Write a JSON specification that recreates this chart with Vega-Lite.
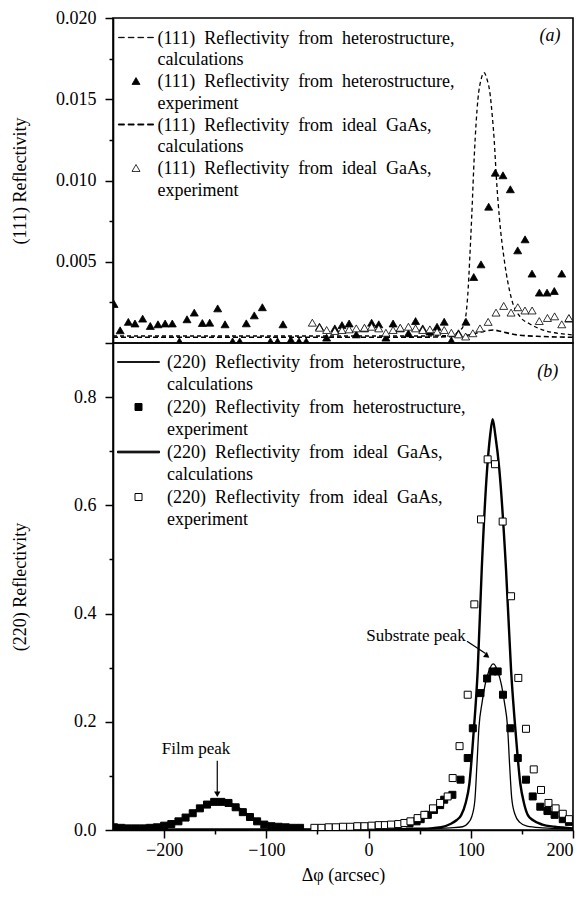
{
  "$schema": "https://vega.github.io/schema/vega-lite/v6.json",
  "padding": {"left": 10, "top": 8, "right": 10, "bottom": 5},
  "spacing": 0,
  "bounds": "flush",
  "resolve": {"scale": {"shape": "independent", "fill": "independent"}, "legend": {"shape": "independent", "fill": "independent"}},
  "config": {
    "font": "Liberation Serif",
    "view": {"stroke": "black", "strokeWidth": 1.6},
    "axis": {"domainColor": "black", "domainWidth": 1.6, "tickColor": "black", "tickWidth": 1.5, "labelColor": "black", "labelFontSize": 18, "titleFontSize": 18, "titleFontWeight": "normal", "titleColor": "black", "grid": false, "labelFont": "Liberation Serif", "titleFont": "Liberation Serif"},
    "legend": {"labelFont": "Liberation Serif", "labelColor": "black"}
  },
  "datasets": {
    "a_hc": [
      {"x": -250, "y": 0.00043}, {"x": -150, "y": 0.00043}, {"x": -50, "y": 0.00043}, {"x": 50, "y": 0.00043}, {"x": 80, "y": 0.00046},
      {"x": 86, "y": 0.0006}, {"x": 90, "y": 0.0008}, {"x": 93, "y": 0.0011}, {"x": 95, "y": 0.0016}, {"x": 97, "y": 0.0029},
      {"x": 99, "y": 0.0052}, {"x": 101, "y": 0.0079}, {"x": 103.5, "y": 0.0116}, {"x": 107, "y": 0.015}, {"x": 110, "y": 0.0162},
      {"x": 113, "y": 0.01664}, {"x": 116, "y": 0.0162}, {"x": 118.5, "y": 0.0155}, {"x": 121, "y": 0.014}, {"x": 123, "y": 0.0124},
      {"x": 125, "y": 0.0102}, {"x": 128, "y": 0.0077}, {"x": 133, "y": 0.005}, {"x": 139.5, "y": 0.0028}, {"x": 149, "y": 0.00156},
      {"x": 157, "y": 0.0012}, {"x": 165, "y": 0.00094}, {"x": 173, "y": 0.00075}, {"x": 182, "y": 0.00063}, {"x": 190, "y": 0.00056}, {"x": 200, "y": 0.0005}
    ],
    "a_ic": [
      {"x": -250, "y": 0.00035}, {"x": -100, "y": 0.00035}, {"x": 50, "y": 0.00036}, {"x": 90, "y": 0.00042}, {"x": 105, "y": 0.0006},
      {"x": 115, "y": 0.00075}, {"x": 122, "y": 0.0008}, {"x": 130, "y": 0.0007}, {"x": 145, "y": 0.0005}, {"x": 170, "y": 0.0004}, {"x": 200, "y": 0.00035}
    ],
    "a_exp": [
      {"x": -249, "y": 0.0024, "series": "he"}, {"x": -243, "y": 0.00078, "series": "he"}, {"x": -235, "y": 0.0013, "series": "he"},
      {"x": -228.5, "y": 0.0012, "series": "he"}, {"x": -221, "y": 0.0015, "series": "he"}, {"x": -213.5, "y": 0.00105, "series": "he"},
      {"x": -206, "y": 0.00115, "series": "he"}, {"x": -199, "y": 0.0012, "series": "he"}, {"x": -192, "y": 0.0012, "series": "he"},
      {"x": -185, "y": 0.0001, "series": "he"}, {"x": -177.6, "y": 0.00146, "series": "he"}, {"x": -170.5, "y": 0.00187, "series": "he"},
      {"x": -162.6, "y": 0.00123, "series": "he"}, {"x": -155.4, "y": 0.00125, "series": "he"}, {"x": -147.6, "y": 0.00213, "series": "he"},
      {"x": -140.4, "y": 0.00115, "series": "he"}, {"x": -133, "y": 0.0001, "series": "he"}, {"x": -126, "y": 0.0001, "series": "he"},
      {"x": -119.6, "y": 0.00121, "series": "he"}, {"x": -111.8, "y": 0.0017, "series": "he"}, {"x": -103.9, "y": 0.0022, "series": "he"},
      {"x": -96, "y": 0.0001, "series": "he"}, {"x": -89, "y": 0.0001, "series": "he"}, {"x": -83.7, "y": 0.00115, "series": "he"},
      {"x": -76, "y": 0.0002, "series": "he"}, {"x": -68, "y": 0.0001, "series": "he"}, {"x": -61, "y": 0.0001, "series": "he"},
      {"x": -48, "y": 0.001, "series": "he"}, {"x": -41, "y": 0.00033, "series": "he"}, {"x": -33, "y": 0.0009, "series": "he"},
      {"x": -26, "y": 0.0011, "series": "he"}, {"x": -19, "y": 0.0012, "series": "he"}, {"x": -12, "y": 0.00053, "series": "he"},
      {"x": -4, "y": 0.0009, "series": "he"}, {"x": 3, "y": 0.00125, "series": "he"}, {"x": 10, "y": 0.00115, "series": "he"},
      {"x": 17, "y": 0.00033, "series": "he"}, {"x": 24, "y": 0.0012, "series": "he"}, {"x": 31, "y": 0.0009, "series": "he"},
      {"x": 39, "y": 0.0006, "series": "he"}, {"x": 46, "y": 0.00135, "series": "he"}, {"x": 53, "y": 0.0009, "series": "he"},
      {"x": 60, "y": 0.0007, "series": "he"}, {"x": 67, "y": 0.001, "series": "he"}, {"x": 74, "y": 0.00131, "series": "he"},
      {"x": 81, "y": 0.00015, "series": "he"}, {"x": 88, "y": 0.0006, "series": "he"}, {"x": 95.3, "y": 0.00131, "series": "he"},
      {"x": 102.9, "y": 0.00406, "series": "he"}, {"x": 110, "y": 0.00484, "series": "he"}, {"x": 117.5, "y": 0.00839, "series": "he"},
      {"x": 124, "y": 0.01048, "series": "he"}, {"x": 131.5, "y": 0.01032, "series": "he"}, {"x": 138.7, "y": 0.00946, "series": "he"},
      {"x": 145.9, "y": 0.0057, "series": "he"}, {"x": 153.1, "y": 0.00638, "series": "he"}, {"x": 159.9, "y": 0.00427, "series": "he"},
      {"x": 167.1, "y": 0.0031, "series": "he"}, {"x": 174.6, "y": 0.0031, "series": "he"}, {"x": 181.7, "y": 0.0032, "series": "he"},
      {"x": 189, "y": 0.00427, "series": "he"}, {"x": 196, "y": 0.0015, "series": "he"},
      {"x": -55, "y": 0.00125, "series": "ie"}, {"x": -48, "y": 0.00094, "series": "ie"}, {"x": -41, "y": 0.0008, "series": "ie"},
      {"x": -33, "y": 0.00074, "series": "ie"}, {"x": -26, "y": 0.0008, "series": "ie"}, {"x": -19, "y": 0.00084, "series": "ie"},
      {"x": -12, "y": 0.0009, "series": "ie"}, {"x": -4, "y": 0.00094, "series": "ie"}, {"x": 3, "y": 0.001, "series": "ie"},
      {"x": 10, "y": 0.0009, "series": "ie"}, {"x": 17, "y": 0.00063, "series": "ie"}, {"x": 24, "y": 0.0008, "series": "ie"},
      {"x": 31, "y": 0.00094, "series": "ie"}, {"x": 39, "y": 0.001, "series": "ie"}, {"x": 46, "y": 0.0009, "series": "ie"},
      {"x": 53, "y": 0.0008, "series": "ie"}, {"x": 60, "y": 0.00084, "series": "ie"}, {"x": 67, "y": 0.0007, "series": "ie"},
      {"x": 74, "y": 0.0008, "series": "ie"}, {"x": 81, "y": 0.00063, "series": "ie"}, {"x": 88, "y": 0.00053, "series": "ie"},
      {"x": 95, "y": 0.0004, "series": "ie"}, {"x": 102, "y": 0.0006, "series": "ie"}, {"x": 109, "y": 0.0009, "series": "ie"},
      {"x": 117, "y": 0.0013, "series": "ie"}, {"x": 124.7, "y": 0.00187, "series": "ie"}, {"x": 132.2, "y": 0.00228, "series": "ie"},
      {"x": 139.4, "y": 0.00187, "series": "ie"}, {"x": 146, "y": 0.0022, "series": "ie"}, {"x": 153, "y": 0.002, "series": "ie"},
      {"x": 160, "y": 0.002, "series": "ie"}, {"x": 167, "y": 0.00135, "series": "ie"}, {"x": 175, "y": 0.00154, "series": "ie"},
      {"x": 182, "y": 0.00164, "series": "ie"}, {"x": 189, "y": 0.00115, "series": "ie"}, {"x": 196, "y": 0.00154, "series": "ie"}
    ],
    "b_hc": [
      {"x": -250, "y": 0.004}, {"x": -235, "y": 0.003}, {"x": -220, "y": 0.003}, {"x": -210, "y": 0.004}, {"x": -200, "y": 0.007},
      {"x": -190, "y": 0.013}, {"x": -180, "y": 0.022}, {"x": -170, "y": 0.034}, {"x": -160, "y": 0.046}, {"x": -152, "y": 0.053},
      {"x": -147, "y": 0.055}, {"x": -140, "y": 0.053}, {"x": -130, "y": 0.045}, {"x": -120, "y": 0.032}, {"x": -110, "y": 0.019},
      {"x": -100, "y": 0.009}, {"x": -90, "y": 0.004}, {"x": -75, "y": 0.002}, {"x": -50, "y": 0.001}, {"x": 0, "y": 0.001},
      {"x": 50, "y": 0.002}, {"x": 80, "y": 0.004}, {"x": 92, "y": 0.006}, {"x": 97, "y": 0.012}, {"x": 101, "y": 0.025},
      {"x": 104, "y": 0.055}, {"x": 106, "y": 0.12}, {"x": 108, "y": 0.19}, {"x": 111, "y": 0.235}, {"x": 114, "y": 0.268},
      {"x": 117, "y": 0.29}, {"x": 122, "y": 0.307}, {"x": 127, "y": 0.29}, {"x": 130, "y": 0.268}, {"x": 133, "y": 0.235},
      {"x": 136, "y": 0.19}, {"x": 138, "y": 0.12}, {"x": 140, "y": 0.06}, {"x": 143, "y": 0.03}, {"x": 148, "y": 0.014},
      {"x": 155, "y": 0.007}, {"x": 170, "y": 0.004}, {"x": 200, "y": 0.002}
    ],
    "b_ic": [
      {"x": -250, "y": 0.001}, {"x": 0, "y": 0.001}, {"x": 40, "y": 0.002}, {"x": 60, "y": 0.003}, {"x": 71, "y": 0.005},
      {"x": 80, "y": 0.011}, {"x": 86, "y": 0.018}, {"x": 90.5, "y": 0.027}, {"x": 95, "y": 0.05}, {"x": 98.6, "y": 0.085},
      {"x": 102.5, "y": 0.173}, {"x": 106.8, "y": 0.296}, {"x": 110.7, "y": 0.481}, {"x": 116, "y": 0.667}, {"x": 119, "y": 0.73},
      {"x": 121.4, "y": 0.759}, {"x": 124, "y": 0.73}, {"x": 127.9, "y": 0.667}, {"x": 134.5, "y": 0.481}, {"x": 139.4, "y": 0.296},
      {"x": 144.2, "y": 0.173}, {"x": 148.5, "y": 0.085}, {"x": 152, "y": 0.05}, {"x": 156, "y": 0.027}, {"x": 161, "y": 0.018},
      {"x": 170, "y": 0.01}, {"x": 182, "y": 0.006}, {"x": 200, "y": 0.003}
    ],
    "b_exp": [
      {"x": -249, "y": 0.005, "series": "he"}, {"x": -242, "y": 0.004, "series": "he"}, {"x": -235, "y": 0.003, "series": "he"},
      {"x": -228, "y": 0.003, "series": "he"}, {"x": -221, "y": 0.003, "series": "he"}, {"x": -214, "y": 0.004, "series": "he"},
      {"x": -207, "y": 0.005, "series": "he"}, {"x": -200, "y": 0.008, "series": "he"}, {"x": -193, "y": 0.011, "series": "he"},
      {"x": -186, "y": 0.016, "series": "he"}, {"x": -179, "y": 0.023, "series": "he"}, {"x": -172, "y": 0.031, "series": "he"},
      {"x": -165, "y": 0.04, "series": "he"}, {"x": -158, "y": 0.047, "series": "he"}, {"x": -151, "y": 0.052, "series": "he"},
      {"x": -144, "y": 0.052, "series": "he"}, {"x": -137, "y": 0.05, "series": "he"}, {"x": -130, "y": 0.042, "series": "he"},
      {"x": -123, "y": 0.033, "series": "he"}, {"x": -116, "y": 0.024, "series": "he"}, {"x": -109, "y": 0.016, "series": "he"},
      {"x": -102, "y": 0.01, "series": "he"}, {"x": -95, "y": 0.007, "series": "he"}, {"x": -88, "y": 0.006, "series": "he"},
      {"x": -81, "y": 0.005, "series": "he"}, {"x": -74, "y": 0.004, "series": "he"}, {"x": -67, "y": 0.004, "series": "he"},
      {"x": 40, "y": 0.012, "series": "he"}, {"x": 47, "y": 0.016, "series": "he"}, {"x": 51, "y": 0.02, "series": "he"},
      {"x": 58, "y": 0.028, "series": "he"}, {"x": 64, "y": 0.037, "series": "he"}, {"x": 70, "y": 0.046, "series": "he"},
      {"x": 74, "y": 0.056, "series": "he"}, {"x": 82, "y": 0.065, "series": "he"}, {"x": 90, "y": 0.093, "series": "he"},
      {"x": 97, "y": 0.133, "series": "he"}, {"x": 102, "y": 0.188, "series": "he"}, {"x": 109.5, "y": 0.253, "series": "he"},
      {"x": 116, "y": 0.28, "series": "he"}, {"x": 121.4, "y": 0.293, "series": "he"}, {"x": 126.3, "y": 0.293, "series": "he"},
      {"x": 131.5, "y": 0.25, "series": "he"}, {"x": 138.7, "y": 0.188, "series": "he"}, {"x": 146, "y": 0.133, "series": "he"},
      {"x": 154, "y": 0.093, "series": "he"}, {"x": 160.6, "y": 0.062, "series": "he"}, {"x": 168, "y": 0.043, "series": "he"},
      {"x": 175, "y": 0.035, "series": "he"}, {"x": 182, "y": 0.028, "series": "he"}, {"x": 190, "y": 0.02, "series": "he"},
      {"x": 196, "y": 0.015, "series": "he"},
      {"x": -53, "y": 0.004, "series": "ie"}, {"x": -46, "y": 0.004, "series": "ie"}, {"x": -39, "y": 0.005, "series": "ie"},
      {"x": -32, "y": 0.005, "series": "ie"}, {"x": -25, "y": 0.006, "series": "ie"}, {"x": -18, "y": 0.006, "series": "ie"},
      {"x": -11, "y": 0.007, "series": "ie"}, {"x": -4, "y": 0.007, "series": "ie"}, {"x": 3, "y": 0.008, "series": "ie"},
      {"x": 10, "y": 0.009, "series": "ie"}, {"x": 16, "y": 0.009, "series": "ie"}, {"x": 22, "y": 0.01, "series": "ie"},
      {"x": 29, "y": 0.011, "series": "ie"}, {"x": 35, "y": 0.013, "series": "ie"}, {"x": 41, "y": 0.016, "series": "ie"},
      {"x": 48, "y": 0.022, "series": "ie"}, {"x": 54.6, "y": 0.028, "series": "ie"}, {"x": 63, "y": 0.04, "series": "ie"},
      {"x": 70, "y": 0.05, "series": "ie"}, {"x": 77.4, "y": 0.062, "series": "ie"}, {"x": 82.3, "y": 0.096, "series": "ie"},
      {"x": 89, "y": 0.155, "series": "ie"}, {"x": 97, "y": 0.25, "series": "ie"}, {"x": 103.5, "y": 0.417, "series": "ie"},
      {"x": 110, "y": 0.574, "series": "ie"}, {"x": 116.5, "y": 0.685, "series": "ie"}, {"x": 123.7, "y": 0.676, "series": "ie"},
      {"x": 131.2, "y": 0.57, "series": "ie"}, {"x": 139.4, "y": 0.432, "series": "ie"}, {"x": 146.5, "y": 0.281, "series": "ie"},
      {"x": 154, "y": 0.187, "series": "ie"}, {"x": 161.6, "y": 0.112, "series": "ie"}, {"x": 168.7, "y": 0.074, "series": "ie"},
      {"x": 176, "y": 0.05, "series": "ie"}, {"x": 183, "y": 0.04, "series": "ie"}, {"x": 190, "y": 0.03, "series": "ie"},
      {"x": 196, "y": 0.02, "series": "ie"}
    ]
  },
  "vconcat": [
    {
      "width": 460,
      "height": 325,
      "layer": [
        {
          "data": {"name": "a_hc"},
          "mark": {"type": "line", "color": "black", "strokeWidth": 1.3, "strokeDash": [4, 3], "interpolate": "monotone", "clip": true},
          "encoding": {
            "x": {"field": "x", "type": "quantitative", "scale": {"domain": [-250, 200], "nice": false, "zero": false}, "axis": null},
            "y": {"field": "y", "type": "quantitative", "scale": {"domain": [0, 0.02], "nice": false},
              "axis": {"title": "(111) Reflectivity", "values": [0, 0.0025, 0.005, 0.0075, 0.01, 0.0125, 0.015, 0.0175, 0.02],
                "labelExpr": "datum.value > 0 && round(datum.value*10000) % 50 == 0 ? format(datum.value, '.3f') : ''",
                "tickSize": {"condition": {"test": "round(datum.value*10000) % 50 == 0", "value": 8}, "value": 4},
                "labelPadding": 9, "titleX": -84, "titleY": 162.5}}
          }
        },
        {
          "data": {"name": "a_ic"},
          "mark": {"type": "line", "color": "black", "strokeWidth": 1.6, "strokeDash": [5, 3], "interpolate": "monotone", "clip": true},
          "encoding": {
            "x": {"field": "x", "type": "quantitative"},
            "y": {"field": "y", "type": "quantitative"}
          }
        },
        {
          "data": {"name": "a_exp"},
          "mark": {"type": "point", "filled": true, "stroke": "black", "strokeWidth": 0.8, "size": 64, "opacity": 1, "clip": true},
          "encoding": {
            "x": {"field": "x", "type": "quantitative"},
            "y": {"field": "y", "type": "quantitative"},
            "shape": {"field": "series", "type": "nominal",
              "scale": {"domain": ["hc", "he", "ic", "ie"], "range": ["M-4.4,-0.05H-2.9V0.05H-4.4Z M-1.975,-0.05H-0.475V0.05H-1.975Z M0.45,-0.05H1.95V0.05H0.45Z M2.875,-0.05H4.375V0.05H2.875Z", "triangle-up", "M-4.4,-0.15H-2.9V0.15H-4.4Z M-1.975,-0.15H-0.475V0.15H-1.975Z M0.45,-0.15H1.95V0.15H0.45Z M2.875,-0.15H4.375V0.15H2.875Z", "triangle-up"]},
              "legend": {"title": null, "orient": "none", "legendX": 0, "legendY": 10.5, "padding": 0, "rowPadding": 2.5, "symbolSize": 64, "symbolOffset": 14, "labelOffset": 12.5, "labelFontSize": 18, "labelLimit": 0, "labelBaseline": "alphabetic", "symbolStrokeColor": "black", "symbolStrokeWidth": 0.8,
                "labelExpr": "datum.value == 'hc' ? ['(111)\u00a0 Reflectivity\u00a0 from\u00a0 heterostructure,', '\u2003\u2003\u2002\u2009calculations'] : datum.value == 'he' ? ['(111)\u00a0 Reflectivity\u00a0 from\u00a0 heterostructure,', '\u2003\u2003\u2002\u2009experiment'] : datum.value == 'ic' ? ['(111)\u00a0 Reflectivity\u00a0 from\u00a0 ideal\u00a0 GaAs,', '\u2003\u2003\u2002\u2009calculations'] : ['(111)\u00a0 Reflectivity\u00a0 from\u00a0 ideal\u00a0 GaAs,', '\u2003\u2003\u2002\u2009experiment']",
                "encoding": {"labels": {"lineHeight": {"value": 21.7}, "dy": {"value": 6}}, "symbols": {"stroke": {"value": "black"}, "strokeWidth": {"value": 0.8}}}}},
            "fill": {"field": "series", "type": "nominal",
              "scale": {"domain": ["hc", "he", "ic", "ie"], "range": ["black", "black", "black", "white"]},
              "legend": {"title": null, "orient": "none", "legendX": 0, "legendY": 10.5, "padding": 0, "rowPadding": 2.5, "symbolSize": 64, "symbolOffset": 14, "labelOffset": 12.5, "labelFontSize": 18, "labelLimit": 0, "labelBaseline": "alphabetic", "symbolStrokeColor": "black", "symbolStrokeWidth": 0.8,
                "labelExpr": "datum.value == 'hc' ? ['(111)\u00a0 Reflectivity\u00a0 from\u00a0 heterostructure,', '\u2003\u2003\u2002\u2009calculations'] : datum.value == 'he' ? ['(111)\u00a0 Reflectivity\u00a0 from\u00a0 heterostructure,', '\u2003\u2003\u2002\u2009experiment'] : datum.value == 'ic' ? ['(111)\u00a0 Reflectivity\u00a0 from\u00a0 ideal\u00a0 GaAs,', '\u2003\u2003\u2002\u2009calculations'] : ['(111)\u00a0 Reflectivity\u00a0 from\u00a0 ideal\u00a0 GaAs,', '\u2003\u2003\u2002\u2009experiment']",
                "encoding": {"labels": {"lineHeight": {"value": 21.7}, "dy": {"value": 6}}, "symbols": {"stroke": {"value": "black"}, "strokeWidth": {"value": 0.8}}}}}
          }
        },
        {
          "data": {"values": [{}]},
          "mark": {"type": "text", "fontStyle": "italic", "fontSize": 18, "align": "center", "baseline": "middle", "color": "black"},
          "encoding": {
            "x": {"datum": 177.5, "type": "quantitative"},
            "y": {"datum": 0.0189, "type": "quantitative"},
            "text": {"value": "(a)"}
          }
        }
      ]
    },
    {
      "width": 460,
      "height": 487,
      "layer": [
        {
          "data": {"name": "b_hc"},
          "mark": {"type": "line", "color": "black", "strokeWidth": 1.3, "interpolate": "monotone", "clip": true},
          "encoding": {
            "x": {"field": "x", "type": "quantitative", "scale": {"domain": [-250, 200], "nice": false, "zero": false},
              "axis": {"title": "Δφ (arcsec)", "values": [-200, -150, -100, -50, 0, 50, 100, 150, 200],
                "labelExpr": "datum.value % 100 == 0 ? format(datum.value, 'd') : ''",
                "tickSize": {"condition": {"test": "datum.value % 100 == 0", "value": 8}, "value": 4},
                "labelPadding": 3, "titlePadding": 7}},
            "y": {"field": "y", "type": "quantitative", "scale": {"domain": [0, 0.9], "nice": false},
              "axis": {"title": "(220) Reflectivity", "values": [0, 0.1, 0.2, 0.3, 0.4, 0.5, 0.6, 0.7, 0.8],
                "labelExpr": "round(datum.value*10) % 2 == 0 ? format(datum.value, '.1f') : ''",
                "tickSize": {"condition": {"test": "round(datum.value*10) % 2 == 0", "value": 8}, "value": 4},
                "labelPadding": 9, "titleX": -84, "titleY": 243.5}}
          }
        },
        {
          "data": {"name": "b_ic"},
          "mark": {"type": "line", "color": "black", "strokeWidth": 2.4, "interpolate": "monotone", "clip": true},
          "encoding": {
            "x": {"field": "x", "type": "quantitative"},
            "y": {"field": "y", "type": "quantitative"}
          }
        },
        {
          "data": {"name": "b_exp"},
          "mark": {"type": "point", "filled": true, "stroke": "black", "strokeWidth": 1, "size": 49, "opacity": 1, "clip": true},
          "encoding": {
            "x": {"field": "x", "type": "quantitative"},
            "y": {"field": "y", "type": "quantitative"},
            "shape": {"field": "series", "type": "nominal",
              "scale": {"domain": ["hc", "he", "ic", "ie"], "range": ["M-6,-0.1H6V0.1H-6Z", "square", "M-6,-0.24H6V0.24H-6Z", "square"]},
              "legend": {"title": null, "orient": "none", "legendX": 0, "legendY": 10, "padding": 0, "rowPadding": 4, "symbolSize": 49, "symbolOffset": 16.5, "labelOffset": 19.5, "labelFontSize": 18, "labelLimit": 0, "labelBaseline": "alphabetic", "symbolStrokeColor": "black", "symbolStrokeWidth": 0.8,
                "labelExpr": "datum.value == 'hc' ? ['(220)\u00a0 Reflectivity\u00a0 from\u00a0 heterostructure,', '\u2003\u2003\u2002\u2009calculations'] : datum.value == 'he' ? ['(220)\u00a0 Reflectivity\u00a0 from\u00a0 heterostructure,', '\u2003\u2003\u2002\u2009experiment'] : datum.value == 'ic' ? ['(220)\u00a0 Reflectivity\u00a0 from\u00a0 ideal\u00a0 GaAs,', '\u2003\u2003\u2002\u2009calculations'] : ['(220)\u00a0 Reflectivity\u00a0 from\u00a0 ideal\u00a0 GaAs,', '\u2003\u2003\u2002\u2009experiment']",
                "encoding": {"labels": {"lineHeight": {"value": 22}, "dy": {"value": 6}}, "symbols": {"stroke": {"value": "black"}, "strokeWidth": {"value": 1}}}}},
            "fill": {"field": "series", "type": "nominal",
              "scale": {"domain": ["hc", "he", "ic", "ie"], "range": ["black", "black", "black", "white"]},
              "legend": {"title": null, "orient": "none", "legendX": 0, "legendY": 10, "padding": 0, "rowPadding": 4, "symbolSize": 49, "symbolOffset": 16.5, "labelOffset": 19.5, "labelFontSize": 18, "labelLimit": 0, "labelBaseline": "alphabetic", "symbolStrokeColor": "black", "symbolStrokeWidth": 0.8,
                "labelExpr": "datum.value == 'hc' ? ['(220)\u00a0 Reflectivity\u00a0 from\u00a0 heterostructure,', '\u2003\u2003\u2002\u2009calculations'] : datum.value == 'he' ? ['(220)\u00a0 Reflectivity\u00a0 from\u00a0 heterostructure,', '\u2003\u2003\u2002\u2009experiment'] : datum.value == 'ic' ? ['(220)\u00a0 Reflectivity\u00a0 from\u00a0 ideal\u00a0 GaAs,', '\u2003\u2003\u2002\u2009calculations'] : ['(220)\u00a0 Reflectivity\u00a0 from\u00a0 ideal\u00a0 GaAs,', '\u2003\u2003\u2002\u2009experiment']",
                "encoding": {"labels": {"lineHeight": {"value": 22}, "dy": {"value": 6}}, "symbols": {"stroke": {"value": "black"}, "strokeWidth": {"value": 1}}}}}
          }
        },
        {
          "data": {"values": [{}]},
          "mark": {"type": "text", "fontStyle": "italic", "fontSize": 18, "align": "center", "baseline": "middle", "color": "black"},
          "encoding": {
            "x": {"datum": 175.2, "type": "quantitative"},
            "y": {"datum": 0.846, "type": "quantitative"},
            "text": {"value": "(b)"}
          }
        },
        {
          "data": {"values": [{}]},
          "mark": {"type": "text", "fontSize": 17, "align": "center", "baseline": "middle", "color": "black"},
          "encoding": {
            "x": {"datum": -168.8, "type": "quantitative"},
            "y": {"datum": 0.15, "type": "quantitative"},
            "text": {"value": "Film peak"}
          }
        },
        {
          "data": {"values": [{}]},
          "mark": {"type": "rule", "color": "black", "strokeWidth": 1.2},
          "encoding": {
            "x": {"datum": -148, "type": "quantitative"},
            "y": {"datum": 0.128, "type": "quantitative"},
            "y2": {"datum": 0.068}
          }
        },
        {
          "data": {"values": [{}]},
          "mark": {"type": "point", "shape": "triangle-down", "filled": true, "color": "black", "size": 40, "opacity": 1},
          "encoding": {
            "x": {"datum": -148, "type": "quantitative"},
            "y": {"datum": 0.066, "type": "quantitative"}
          }
        },
        {
          "data": {"values": [{}]},
          "mark": {"type": "text", "fontSize": 17, "align": "center", "baseline": "middle", "color": "black"},
          "encoding": {
            "x": {"datum": 46.4, "type": "quantitative"},
            "y": {"datum": 0.359, "type": "quantitative"},
            "text": {"value": "Substrate peak"}
          }
        },
        {
          "data": {"values": [{}]},
          "mark": {"type": "rule", "color": "black", "strokeWidth": 1.2},
          "encoding": {
            "x": {"datum": 96.3, "type": "quantitative"},
            "y": {"datum": 0.349, "type": "quantitative"},
            "x2": {"datum": 114.5},
            "y2": {"datum": 0.326}
          }
        },
        {
          "data": {"values": [{}]},
          "mark": {"type": "point", "shape": "triangle-right", "angle": 37, "filled": true, "color": "black", "size": 40, "opacity": 1},
          "encoding": {
            "x": {"datum": 116, "type": "quantitative"},
            "y": {"datum": 0.3215, "type": "quantitative"}
          }
        }
      ]
    }
  ]
}
